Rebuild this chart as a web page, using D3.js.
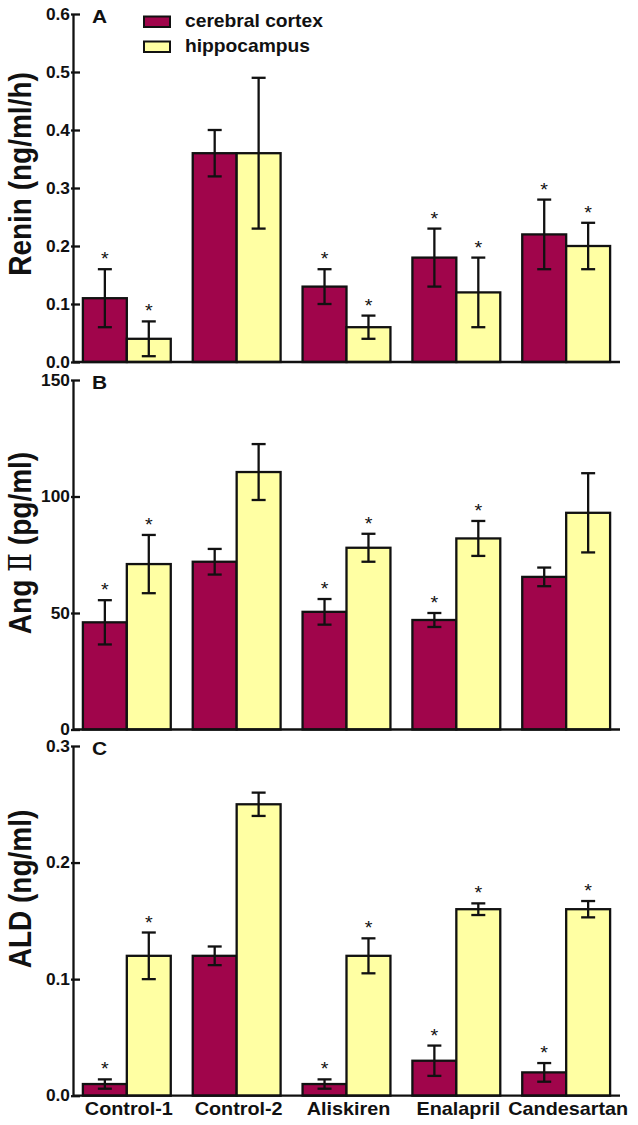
<!DOCTYPE html>
<html>
<head>
<meta charset="utf-8">
<script src="https://cdn.jsdelivr.net/npm/d3@7"></script>
<style>
  html, body { margin: 0; padding: 0; background: #fff; }
  svg { display: block; font-family: "Liberation Sans", Arial, sans-serif; }
</style>
</head>
<body>
<svg id="chart" width="638" height="1125"></svg>
<script>
// ---------- data ----------
const groups = ["Control-1", "Control-2", "Aliskiren", "Enalapril", "Candesartan"];
const seriesNames = ["cerebral cortex", "hippocampus"];
const seriesColors = ["#A0054B", "#FFFFA3"];

// Panel A: Renin (ng/ml/h)
const reninCortex    = [0.11, 0.36, 0.13, 0.18, 0.22];
const reninCortexErr = [0.05, 0.04, 0.03, 0.05, 0.06];
const reninHippo     = [0.04, 0.36, 0.06, 0.12, 0.20];
const reninHippoErr  = [0.03, 0.13, 0.02, 0.06, 0.04];
const reninCortexSig = [1, 0, 1, 1, 1];
const reninHippoSig  = [1, 0, 1, 1, 1];
const reninTicks     = [0, 0.1, 0.2, 0.3, 0.4, 0.5, 0.6];

// Panel B: Ang II (pg/ml)
const angCortex    = [46, 72, 50.5, 47, 65.5];
const angCortexErr = [9.5, 5.5, 5.5, 3, 4];
const angHippo     = [71, 110.5, 78, 82, 93];
const angHippoErr  = [12.5, 12, 6, 7.5, 17];
const angCortexSig = [1, 0, 1, 1, 0];
const angHippoSig  = [1, 0, 1, 1, 0];
const angTicks     = [0, 50, 100, 150];

// Panel C: ALD (ng/ml)
const aldCortex    = [0.01, 0.12, 0.01, 0.03, 0.02];
const aldCortexErr = [0.004, 0.008, 0.004, 0.013, 0.008];
const aldHippo     = [0.12, 0.25, 0.12, 0.16, 0.16];
const aldHippoErr  = [0.02, 0.01, 0.015, 0.005, 0.007];
const aldCortexSig = [1, 0, 1, 1, 1];
const aldHippoSig  = [1, 0, 1, 1, 1];
const aldTicks     = [0, 0.1, 0.2, 0.3];

// ---------- layout ----------
const svg = d3.select("#chart");
const SX = 1.1;              // horizontal stretch of glyphs in the reference
const axisX = 73, axisRight = 620;

const x0 = d3.scaleBand().domain(groups).range([axisX, axisRight]).paddingInner(0.2).paddingOuter(0.09);
const x1 = d3.scaleBand().domain([0, 1]).range([0, x0.bandwidth()]);

const panels = [
  { letter: "A", top: 14, bottom: 362, max: 0.6, ticks: reninTicks, fmt: d3.format(".1f"),
    label: ["Renin (ng/ml/h)"], labelY: 174,
    vals: [reninCortex, reninHippo], errs: [reninCortexErr, reninHippoErr], sigs: [reninCortexSig, reninHippoSig], legend: true },
  { letter: "B", top: 380, bottom: 729.5, max: 150, ticks: angTicks, fmt: d3.format("d"),
    label: ["Ang ", "\u2161", " (pg/ml)"], labelY: 543,
    vals: [angCortex, angHippo], errs: [angCortexErr, angHippoErr], sigs: [angCortexSig, angHippoSig] },
  { letter: "C", top: 746, bottom: 1095.7, max: 0.3, ticks: aldTicks, fmt: d3.format(".1f"),
    label: ["ALD (ng/ml)"], labelY: 889,
    vals: [aldCortex, aldHippo], errs: [aldCortexErr, aldHippoErr], sigs: [aldCortexSig, aldHippoSig], xlabels: true }
];

panels.forEach(p => {
  const y = d3.scaleLinear().domain([0, p.max]).range([p.bottom, p.top]);
  const g = svg.append("g");

  // bars
  p.vals.forEach((arr, si) => {
    const sg = g.append("g");
    sg.selectAll("rect").data(arr).join("rect")
      .attr("x", (d, i) => x0(groups[i]) + x1(si))
      .attr("y", d => y(d))
      .attr("width", x1.bandwidth())
      .attr("height", d => y(0) - y(d))
      .attr("fill", seriesColors[si])
      .attr("stroke", "#111")
      .attr("stroke-width", 2.3);
  });

  // error bars + stars
  p.vals.forEach((arr, si) => {
    const eg = g.append("g").attr("stroke", "#111").attr("stroke-width", 2.3).attr("fill", "none");
    arr.forEach((v, i) => {
      const cx = x0(groups[i]) + x1(si) + x1.bandwidth() / 2;
      const e = p.errs[si][i];
      const yt = y(v + e), yb = y(v - e);
      eg.append("line").attr("x1", cx).attr("x2", cx).attr("y1", yt).attr("y2", yb);
      eg.append("line").attr("x1", cx - 7).attr("x2", cx + 7).attr("y1", yt).attr("y2", yt);
      eg.append("line").attr("x1", cx - 7).attr("x2", cx + 7).attr("y1", yb).attr("y2", yb);
      if (p.sigs[si][i]) {
        g.append("text")
          .attr("transform", `translate(${cx},${yt - 4}) scale(${SX},1)`)
          .attr("text-anchor", "middle")
          .attr("font-size", 18)
          .attr("fill", "#111")
          .text("*");
      }
    });
  });

  // y axis
  const ax = g.append("g").attr("transform", `translate(${axisX},0)`)
    .call(d3.axisLeft(y).tickValues(p.ticks).tickFormat(p.fmt).tickSize(-7).tickSizeOuter(0).tickPadding(3));
  ax.select(".domain").attr("stroke", "#111").attr("stroke-width", 2.3);
  ax.selectAll(".tick line").attr("stroke", "#111").attr("stroke-width", 2.3).attr("x2", 7).attr("x1", -2);
  ax.selectAll(".tick text")
    .attr("font-size", 16.5).attr("font-weight", "bold").attr("fill", "#111")
    .attr("font-family", "'Liberation Sans', Arial, sans-serif")
    .attr("x", null)
    .attr("transform", `translate(-3,0) scale(1.05,1)`);

  // x baseline
  g.append("line").attr("x1", axisX).attr("x2", axisRight)
    .attr("y1", y(0)).attr("y2", y(0)).attr("stroke", "#111").attr("stroke-width", 2.3);

  // panel letter
  g.append("text")
    .attr("transform", `translate(92,${p.top + 9}) scale(${SX},1)`)
    .attr("font-size", 19).attr("font-weight", "bold").attr("fill", "#111")
    .text(p.letter);

  // y label
  const lt = g.append("text")
    .attr("transform", `translate(31,${p.labelY}) scale(${SX},1) rotate(-90)`)
    .attr("text-anchor", "middle")
    .attr("font-size", 28).attr("font-weight", "bold").attr("fill", "#111");
  p.label.forEach(s => {
    const ts = lt.append("tspan").text(s);
    if (s === "\u2161") ts.attr("font-family", "'DejaVu Serif', 'Liberation Serif', serif").attr("font-weight", "normal");
  });

  // x labels
  if (p.xlabels) {
    g.selectAll(".xl").data(groups).join("text")
      .attr("transform", d => `translate(${x0(d) + x0.bandwidth() / 2 + 2},1115) scale(${SX},1)`)
      .attr("text-anchor", "middle")
      .attr("font-size", 18).attr("font-weight", "bold").attr("fill", "#111")
      .text(d => d);
  }

  // legend
  if (p.legend) {
    const lg = g.append("g");
    const rows = [{ y: 16.5 }, { y: 41.5 }];
    seriesNames.forEach((n, i) => {
      lg.append("rect").attr("x", 144).attr("y", rows[i].y).attr("width", 26).attr("height", 10.5)
        .attr("fill", seriesColors[i]).attr("stroke", "#111").attr("stroke-width", 2);
      lg.append("text")
        .attr("transform", `translate(185,${rows[i].y + 10}) scale(${SX},1)`)
        .attr("font-size", 17.5).attr("font-weight", "bold").attr("fill", "#111")
        .text(n);
    });
  }
});
</script>
</body>
</html>
